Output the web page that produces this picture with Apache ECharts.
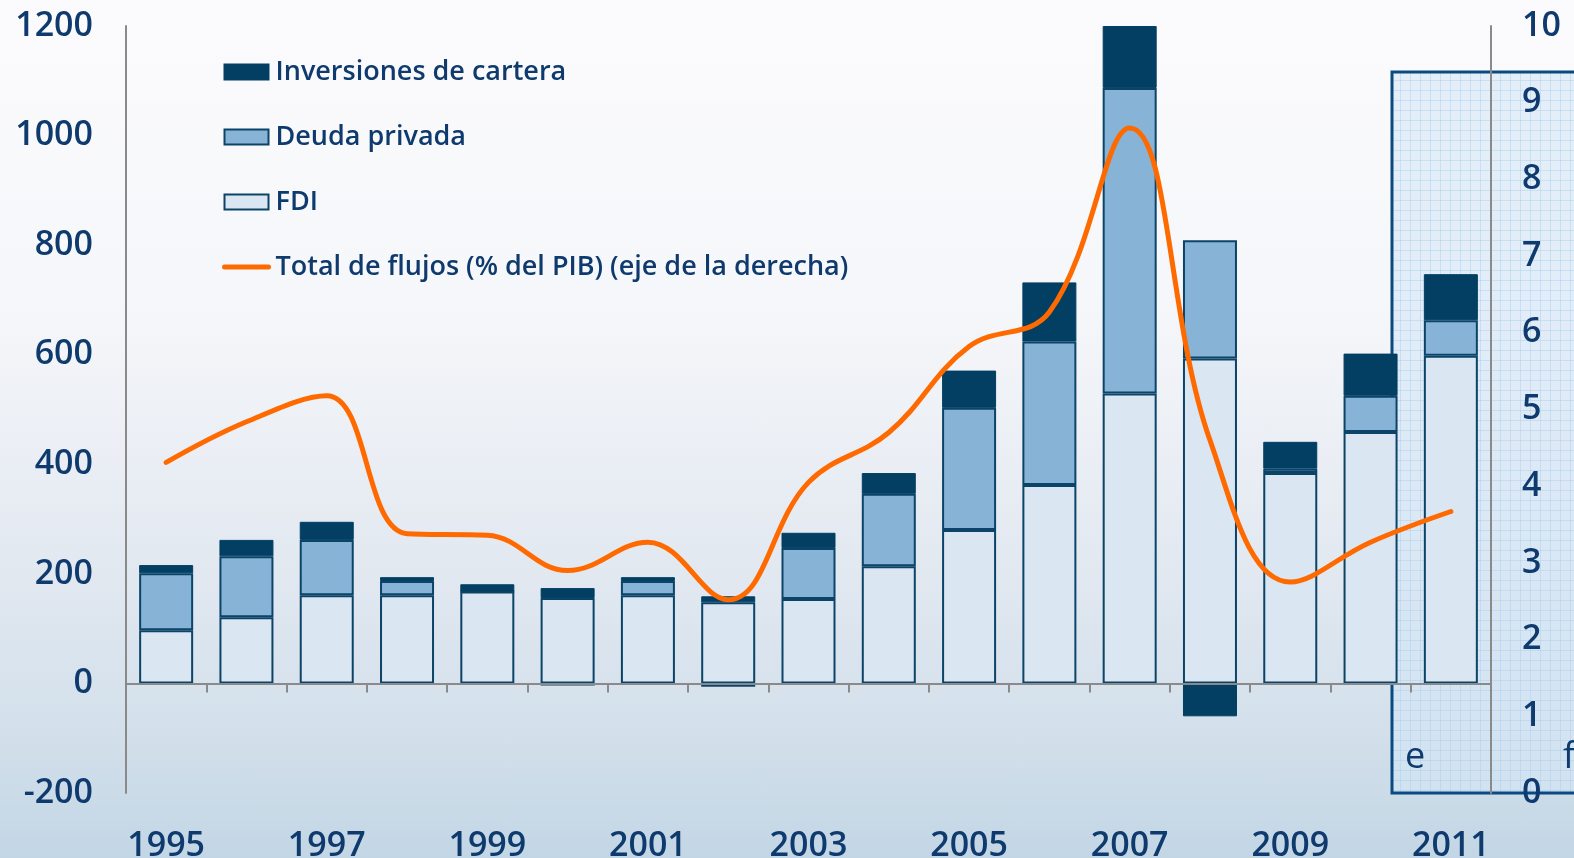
<!DOCTYPE html>
<html>
<head>
<meta charset="utf-8">
<script src="https://cdn.jsdelivr.net/npm/echarts@6/dist/echarts.min.js"></script>
<style>
  html, body { margin: 0; padding: 0; }
  body {
    background: linear-gradient(to bottom, #fbfbfd 0%, #f6f7fa 35%, #e3e9f1 65%, #d3e0eb 85%, #c3d6e5 100%);
  }
  #chart { width: 1574px; height: 858px; }
</style>
</head>
<body>
<div id="chart"></div>
<script>
// datos
const years = ['1995', '1996', '1997', '1998', '1999', '2000', '2001', '2002', '2003',
  '2004', '2005', '2006', '2007', '2008', '2009', '2010', '2011']
const fdi = [97, 121, 161, 161, 168, 156, 161, 148, 154, 214, 280, 362, 529, 593, 384, 459, 598]
const deuda = [104, 111, 101, 26, 0, -4, 26, -6, 93, 132, 223, 262, 558, 216, 8, 66, 65]
const cartera = [15, 30, 33, 7, 13, 18, 7, 11, 28, 38, 68, 108, 113, -60, 49, 77, 84]
const totalPib = [4.31, 4.84, 5.18, 3.38, 3.36, 2.9, 3.27, 2.52, 4.05, 4.7, 5.82, 6.27, 8.67, 4.6, 2.75, 3.27, 3.67]
const leftTicks = [-200, 1200, 200] // min, max, interval
const rightTicks = [0, 10, 1]

const navy = '#0f3a6e'
const border = '#0b4468'
const numFont = 'Open Sans'

// trama cuadriculada del recuadro de estimaciones
function gridPattern () {
  const c = document.createElement('canvas')
  c.width = 10
  c.height = 10
  const ctx = c.getContext('2d')
  ctx.fillStyle = 'rgba(212,230,247,0.6)'
  ctx.fillRect(0, 0, 10, 10)
  ctx.strokeStyle = 'rgba(170,205,236,0.45)'
  ctx.lineWidth = 1
  ctx.beginPath()
  ctx.moveTo(0.5, 0); ctx.lineTo(0.5, 10)
  ctx.moveTo(0, 0.5); ctx.lineTo(10, 0.5)
  ctx.stroke()
  return c
}

const chart = echarts.init(document.getElementById('chart'))

const barBase = {
  type: 'bar',
  stack: 'flujos',
  barWidth: 54,
  xAxisIndex: 0,
  yAxisIndex: 0,
  z: 4
}

const numLabel = {
  color: navy,
  fontFamily: numFont,
  fontWeight: 600,
  fontSize: 34
}

chart.setOption({
  animation: false,
  grid: { left: 126, right: 83, top: 26, bottom: 65, outerBoundsMode: 'none', containLabel: false },
  legend: {
    orient: 'vertical',
    left: 217,
    top: 52,
    itemWidth: 44,
    itemHeight: 15,
    itemGap: 35,
    data: [
      { name: 'Inversiones de cartera', icon: 'rect' },
      { name: 'Deuda privada', icon: 'rect' },
      { name: 'FDI', icon: 'rect' },
      // solo la linea, sin simbolo
      {
        name: 'Total de flujos (% del PIB) (eje de la derecha)',
        itemStyle: { opacity: 0 },
        lineStyle: { width: 5, cap: 'round' }
      }
    ],
    textStyle: {
      color: navy,
      fontFamily: 'Open Sans',
      fontWeight: 600,
      fontSize: 27,
      lineHeight: 30,
      padding: [0, 0, 0, 2]
    }
  },
  xAxis: [
    {
      // eje en cero con marcas entre categorias
      type: 'category',
      data: years,
      boundaryGap: true,
      axisLine: { onZero: true, lineStyle: { color: '#8a8a8a', width: 2 } },
      axisTick: { show: true, interval: 0, length: 9, lineStyle: { color: '#8a8a8a', width: 2 } },
      axisLabel: { show: false },
      z: 5
    },
    {
      // solo las etiquetas abajo
      type: 'category',
      data: years,
      position: 'bottom',
      axisLine: { show: false, onZero: false },
      axisTick: { show: false },
      axisLabel: Object.assign({ interval: 1, margin: 36 }, numLabel)
    }
  ],
  yAxis: [
    {
      type: 'value',
      min: leftTicks[0],
      max: leftTicks[1],
      interval: leftTicks[2],
      axisLine: { show: true, lineStyle: { color: '#8a8a8a', width: 2 } },
      axisTick: { show: false },
      splitLine: { show: false },
      axisLabel: Object.assign({ margin: 33, formatter: v => String(v) }, numLabel),
      z: 5
    },
    {
      type: 'value',
      position: 'right',
      min: rightTicks[0],
      max: rightTicks[1],
      interval: rightTicks[2],
      axisLine: { show: true, lineStyle: { color: '#8a8a8a', width: 2 } },
      axisTick: { show: false },
      splitLine: { show: false },
      axisLabel: Object.assign({ margin: 31 }, numLabel),
      z: 5
    }
  ],
  graphic: [
    {
      type: 'rect',
      z: 1,
      shape: { x: 1392, y: 72, width: 300, height: 721 },
      style: { fill: { image: gridPattern(), repeat: 'repeat' }, stroke: '#0b4a80', lineWidth: 3 }
    },
    {
      type: 'text',
      z: 2,
      left: 1405,
      top: 740,
      style: { text: 'e', fill: navy, font: '500 36px "Open Sans"' }
    },
    {
      type: 'text',
      z: 2,
      left: 1563,
      top: 740,
      style: { text: 'f', fill: navy, font: '500 36px "Open Sans"' }
    }
  ],
  series: [
    Object.assign({}, barBase, {
      name: 'FDI',
      data: fdi,
      itemStyle: { color: '#dae6f1', borderColor: border, borderWidth: 2 }
    }),
    Object.assign({}, barBase, {
      name: 'Deuda privada',
      data: deuda,
      itemStyle: { color: '#87b3d7', borderColor: border, borderWidth: 2 }
    }),
    Object.assign({}, barBase, {
      name: 'Inversiones de cartera',
      data: cartera,
      itemStyle: { color: '#023f63', borderColor: '#023f63', borderWidth: 1 }
    }),
    {
      name: 'Total de flujos (% del PIB) (eje de la derecha)',
      type: 'line',
      xAxisIndex: 0,
      yAxisIndex: 1,
      data: totalPib,
      smooth: 0.4,
      symbol: 'none',
      z: 6,
      lineStyle: { color: '#ff6a00', width: 5, cap: 'round' },
      itemStyle: { color: '#ff6a00' }
    }
  ]
})
</script>
</body>
</html>
